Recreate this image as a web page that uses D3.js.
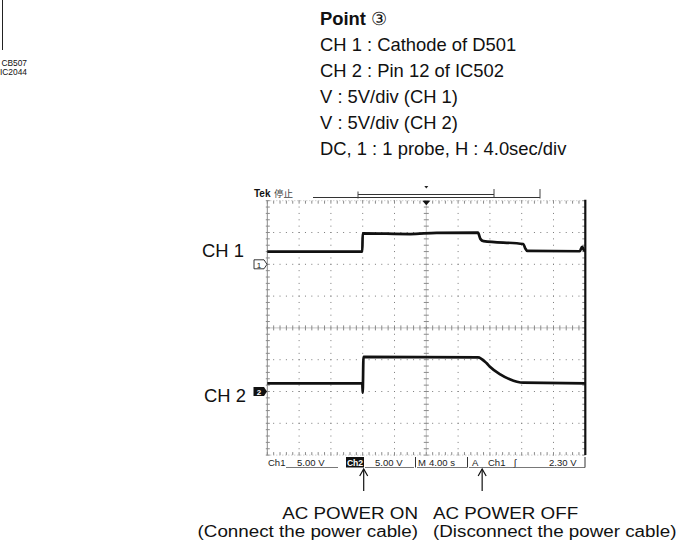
<!DOCTYPE html>
<html>
<head>
<meta charset="utf-8">
<script src="https://cdn.jsdelivr.net/npm/d3@7"></script>
<style>
  html, body { margin: 0; padding: 0; background: #fff; }
  svg { display: block; }
  .txt { font-family: "Liberation Sans", Arial, sans-serif; fill: #111; }
  .scr { font-family: "Liberation Sans", Arial, sans-serif; fill: #222; font-size: 9.5px; }
</style>
</head>
<body>
<svg id="chart" width="689" height="546"></svg>
<script>
// ---- Waveform data (time in seconds relative to trigger, volts) ----
const ch1Time  = [-20, -8.05, -8.0, -2.0, 1.3, 6.5, 6.8, 7.2, 12.2, 12.45, 12.7, 19.3, 19.6, 19.8, 20];
const ch1Volts = [1.98, 1.98, 4.87, 4.75, 4.95, 4.97, 4.0, 3.65, 3.19, 2.5, 2.12, 2.05, 2.75, 2.3, 2.05];

const ch2Time  = [-20, -8.05, -8.0, -7.9, 6.5, 7.6, 8.0, 9.3, 10.5, 11.4, 12.2, 20];
const ch2Volts = [1.29, 1.29, -0.2, 5.45, 5.38, 4.43, 3.9, 2.7, 1.92, 1.54, 1.38, 1.29];

// Scope settings
const voltsPerDiv = 5;
const secPerDiv = 4;
const hDivs = 10, vDivs = 8;
const ch1GroundDiv = 2;   // divisions below top
const ch2GroundDiv = 6;

// Text blocks
const headerLines = [
  "CH 1 : Cathode of D501",
  "CH 2 : Pin 12 of IC502",
  "V : 5V/div (CH 1)",
  "V : 5V/div (CH 2)",
  "DC, 1 : 1 probe, H : 4.0sec/div"
];
const eventTimes = [-8.0, 6.9];
const eventTitles = ["AC POWER ON", "AC POWER OFF"];
const eventNotes = ["(Connect the power cable)", "(Disconnect the power cable)"];

const svg = d3.select("#chart");

// Graticule geometry
const gLeft = 267.3, gRight = 585.3, gTop = 200.7, gBottom = 455.1;
const gx = d3.scaleLinear().domain([0, hDivs]).range([gLeft, gRight]);
const gy = d3.scaleLinear().domain([0, vDivs]).range([gTop, gBottom]);
const x = d3.scaleLinear().domain([-hDivs / 2 * secPerDiv, hDivs / 2 * secPerDiv]).range([gLeft, gRight]);
const divPx = gy(1) - gy(0);
const y1 = d3.scaleLinear().domain([0, voltsPerDiv]).range([gy(ch1GroundDiv), gy(ch1GroundDiv) - divPx]);
const y2 = d3.scaleLinear().domain([0, voltsPerDiv]).range([gy(ch2GroundDiv), gy(ch2GroundDiv) - divPx]);

// ---- Corner fragment ----
svg.append("line").attr("x1", 2.5).attr("x2", 2.5).attr("y1", 0).attr("y2", 50)
  .attr("stroke", "#222").attr("stroke-width", 1);
svg.append("text").attr("class", "txt").attr("x", 27).attr("y", 66).attr("text-anchor", "end")
  .attr("font-size", 8.4).text("CB507");
svg.append("text").attr("class", "txt").attr("x", 27).attr("y", 75).attr("text-anchor", "end")
  .attr("font-size", 8.4).text("IC2044");

// ---- Header ----
const head = svg.append("g").attr("class", "txt").attr("font-size", 18.4);
const t0 = head.append("text").attr("x", 320).attr("y", 25);
t0.append("tspan").attr("font-weight", "bold").text("Point ");
t0.append("tspan").text("\u2462");
headerLines.forEach((s, i) => {
  head.append("text").attr("x", 320).attr("y", 51 + i * 26).text(s);
});

// ---- Graticule ----
const g = svg.append("g");
const minor = d3.range(0, hDivs * 5 + 1).map(k => k / 5);
const minorV = d3.range(0, vDivs * 5 + 1).map(k => k / 5);

// dotted major lines
for (let i = 1; i < vDivs; i++) {
  if (i === vDivs / 2) continue;
  g.selectAll(null).data(minor).enter().append("rect")
    .attr("x", d => gx(d) - 0.5).attr("y", gy(i) - 0.5).attr("width", 1).attr("height", 1)
    .attr("fill", "#7a7a7a");
}
for (let j = 1; j < hDivs; j++) {
  if (j === hDivs / 2) continue;
  g.selectAll(null).data(minorV).enter().append("rect")
    .attr("x", gx(j) - 0.5).attr("y", d => gy(d) - 0.5).attr("width", 1).attr("height", 1)
    .attr("fill", "#7a7a7a");
}
// center cross with minor ticks
g.append("line").attr("x1", gLeft).attr("x2", gRight).attr("y1", gy(4)).attr("y2", gy(4))
  .attr("stroke", "#c4c4c4").attr("stroke-width", 1);
g.append("line").attr("x1", gx(5)).attr("x2", gx(5)).attr("y1", gTop).attr("y2", gBottom)
  .attr("stroke", "#c4c4c4").attr("stroke-width", 1);
g.selectAll(null).data(minor).enter().append("line")
  .attr("x1", d => gx(d)).attr("x2", d => gx(d)).attr("y1", gy(4) - 2.5).attr("y2", gy(4) + 2.5)
  .attr("stroke", "#8a8a8a").attr("stroke-width", 1);
g.selectAll(null).data(minorV).enter().append("line")
  .attr("x1", gx(5) - 2.5).attr("x2", gx(5) + 2.5).attr("y1", d => gy(d)).attr("y2", d => gy(d))
  .attr("stroke", "#8a8a8a").attr("stroke-width", 1);

// frame: top and bottom dotted with ticks
[gTop, gBottom].forEach((yy, k) => {
  g.selectAll(null).data(minor).enter().append("line")
    .attr("x1", d => gx(d)).attr("x2", d => gx(d))
    .attr("y1", yy).attr("y2", k === 0 ? yy + 3 : yy - 3)
    .attr("stroke", "#8a8a8a").attr("stroke-width", 1);
  g.append("line").attr("x1", gLeft).attr("x2", gRight).attr("y1", yy).attr("y2", yy)
    .attr("stroke", "#bdbdbd").attr("stroke-width", 1).attr("stroke-dasharray", "1,2");
});
// left edge
g.append("line").attr("x1", gLeft).attr("x2", gLeft).attr("y1", gTop).attr("y2", gBottom)
  .attr("stroke", "#8a8a8a").attr("stroke-width", 1);
g.selectAll(null).data(minorV).enter().append("line")
  .attr("x1", gLeft - 1.5).attr("x2", gLeft + 2.5).attr("y1", d => gy(d)).attr("y2", d => gy(d))
  .attr("stroke", "#8a8a8a").attr("stroke-width", 1);
// right edge ticks and thick border
g.selectAll(null).data(minorV).enter().append("line")
  .attr("x1", gRight - 3).attr("x2", gRight).attr("y1", d => gy(d)).attr("y2", d => gy(d))
  .attr("stroke", "#8a8a8a").attr("stroke-width", 1);
g.append("line").attr("x1", gRight).attr("x2", gRight).attr("y1", gTop - 1).attr("y2", gBottom)
  .attr("stroke", "#111").attr("stroke-width", 2.2);

// trigger position marker
g.append("path")
  .attr("d", `M${x(0) - 4},${gTop} L${x(0) + 4},${gTop} L${x(0)},${gTop + 4.5} Z`)
  .attr("fill", "#111");

// ---- Status header: Tek label and record bar ----
const hdr = svg.append("g");
hdr.append("text").attr("class", "txt").attr("x", 254).attr("y", 197)
  .attr("font-size", 10).attr("font-weight", "bold").text("Tek");
hdr.append("text").attr("x", 274).attr("y", 197).attr("font-size", 9.5)
  .attr("font-family", "Noto Sans CJK SC").attr("fill", "#444").text("停止");
hdr.append("line").attr("x1", 313).attr("x2", 540).attr("y1", 197.5).attr("y2", 197.5)
  .attr("stroke", "#333").attr("stroke-width", 1);
hdr.append("line").attr("x1", 358).attr("x2", 494).attr("y1", 194.5).attr("y2", 194.5)
  .attr("stroke", "#333").attr("stroke-width", 1);
[[358, 191.5, 198.5], [494, 189, 197.5], [540, 189, 198.5]].forEach(([xx, a, b]) => {
  hdr.append("line").attr("x1", xx).attr("x2", xx).attr("y1", a).attr("y2", b)
    .attr("stroke", "#444").attr("stroke-width", 1);
});
hdr.append("path").attr("d", `M${x(0) - 2},186 L${x(0) + 2},186 L${x(0)},188.5 Z`).attr("fill", "#222");

// ---- Traces ----
const line1 = d3.line().x((d, i) => x(ch1Time[i])).y(d => y1(d)).curve(d3.curveMonotoneX);
const line2 = d3.line().x((d, i) => x(ch2Time[i])).y(d => y2(d)).curve(d3.curveMonotoneX);
svg.append("path").attr("d", line1(ch1Volts)).attr("fill", "none")
  .attr("stroke", "#111").attr("stroke-width", 2.7).attr("stroke-linejoin", "round");
svg.append("path").attr("d", line2(ch2Volts)).attr("fill", "none")
  .attr("stroke", "#111").attr("stroke-width", 2.7).attr("stroke-linejoin", "round");

// ---- Ground markers ----
const gm1 = y1(0), gm2 = y2(0);
svg.append("path")
  .attr("d", `M254,${gm1 - 4.5} L264,${gm1 - 4.5} L267,${gm1} L264,${gm1 + 4.5} L254,${gm1 + 4.5} Z`)
  .attr("fill", "#fff").attr("stroke", "#222").attr("stroke-width", 0.9);
svg.append("text").attr("class", "txt").attr("x", 259).attr("y", gm1 + 3.2)
  .attr("text-anchor", "middle").attr("font-size", 8).text("1");
svg.append("path")
  .attr("d", `M253.5,${gm2 - 4.5} L264,${gm2 - 4.5} L267,${gm2} L264,${gm2 + 4.5} L253.5,${gm2 + 4.5} Z`)
  .attr("fill", "#111");
svg.append("text").attr("x", 259).attr("y", gm2 + 3.2).attr("text-anchor", "middle")
  .attr("font-size", 8).attr("font-weight", "bold").attr("fill", "#fff")
  .attr("font-family", "Liberation Sans, Arial, sans-serif").text("2");

// channel labels
svg.append("text").attr("class", "txt").attr("x", 202).attr("y", 257).attr("font-size", 18.4).text("CH 1");
svg.append("text").attr("class", "txt").attr("x", 204).attr("y", 401.5).attr("font-size", 18.4).text("CH 2");

// ---- Status bar ----
const sb = svg.append("g");
const sy = 466;
const statusItems = [
  { t: "Ch1", x: 268 }, { t: "5.00 V", x: 297 },
  { t: "5.00 V", x: 375 }, { t: "M", x: 418 }, { t: "4.00 s", x: 429 },
  { t: "A", x: 472 }, { t: "Ch1", x: 488 }, { t: "\u0283", x: 514 }, { t: "2.30 V", x: 549 }
];
statusItems.forEach(s => sb.append("text").attr("class", "scr").attr("x", s.x).attr("y", sy).text(s.t));
sb.append("rect").attr("x", 346).attr("y", 457).attr("width", 18).attr("height", 10.5).attr("fill", "#111");
sb.append("text").attr("class", "scr").attr("x", 355).attr("y", sy).attr("text-anchor", "middle")
  .attr("font-weight", "bold").style("font-size", "8.6px").style("fill", "#fff").text("Ch2");
[[286, 338], [365, 414], [417, 467], [469, 585]].forEach(([a, b]) => {
  sb.append("line").attr("x1", a).attr("x2", b).attr("y1", sy + 1.5).attr("y2", sy + 1.5)
    .attr("stroke", "#555").attr("stroke-width", 0.8);
});
[415.5, 467.5, 585].forEach(xx => {
  sb.append("line").attr("x1", xx).attr("x2", xx).attr("y1", 457).attr("y2", sy + 1.5)
    .attr("stroke", "#333").attr("stroke-width", 1);
});

// ---- Event arrows and labels ----
eventTimes.forEach((t, i) => {
  const ax = x(t) + 1;
  svg.append("line").attr("x1", ax).attr("x2", ax).attr("y1", 469).attr("y2", 491)
    .attr("stroke", "#111").attr("stroke-width", 1.2);
  svg.append("path").attr("d", `M${ax - 4},476 L${ax},469 L${ax + 4},476`)
    .attr("fill", "none").attr("stroke", "#111").attr("stroke-width", 1.2);
});
// labels use a slightly widened face
const labelX = [418, 433];
const anchors = ["end", "start"];
const widen = 1.19;
eventTitles.forEach((s, i) => {
  const lg = svg.append("g").attr("transform", `translate(${labelX[i]},0) scale(${widen},1)`);
  lg.append("text").attr("class", "txt").attr("x", 0).attr("y", 519.3)
    .attr("text-anchor", anchors[i]).attr("font-size", 15.8).text(s);
  lg.append("text").attr("class", "txt").attr("x", 0).attr("y", 537.3)
    .attr("text-anchor", anchors[i]).attr("font-size", 15.8).text(eventNotes[i]);
});
</script>
</body>
</html>
